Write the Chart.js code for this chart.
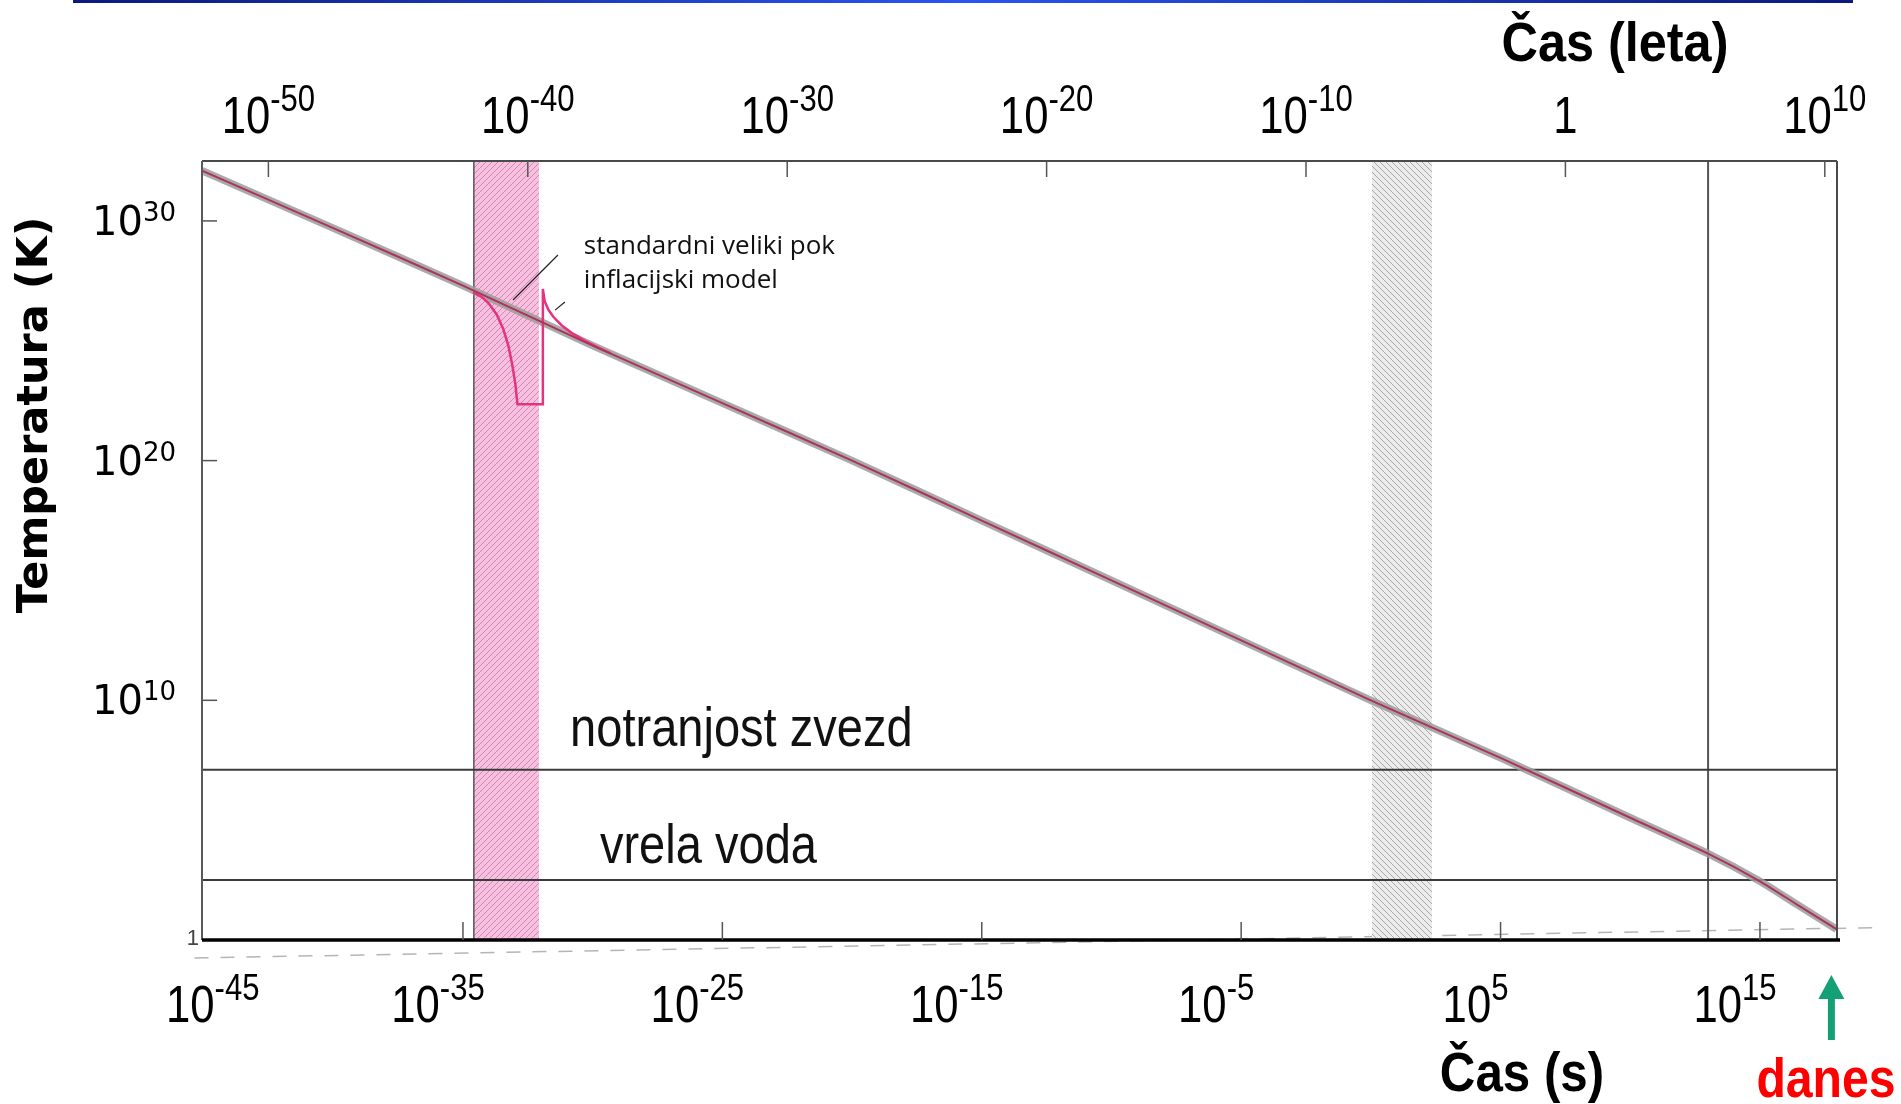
<!DOCTYPE html>
<html>
<head>
<meta charset="utf-8">
<title>Temperatura vesolja</title>
<script src="https://cdn.jsdelivr.net/npm/chart.js@4.4.1/dist/chart.umd.min.js"></script>
<style>
    html, body { margin: 0; padding: 0; background: #fff; overflow: hidden; }
    #wrap { position: relative; width: 1901px; height: 1104px; }
</style>
</head>
<body>
<div id="wrap"><canvas id="chart"></canvas></div>
<script>
// ---------------------------------------------------------------------------
// Data (everything in log10: time in seconds, temperature in kelvin)
// ---------------------------------------------------------------------------
const secMin = -45.06;
const secMax = 17.97;
const tempMax = 32.5;
const yearOffset = 7.5;          // log10(seconds per year)
const todayLogS = 17.6;

const timeLogS = [-45.06, -40, -35, -30, -25, -20, -15, -10, -5, 0, 5, 10, 13, 15, 16.4, 17.95];
const tempLogK = [32.1, 29.7, 27.3, 24.8, 22.4, 20.0, 17.5, 15.0, 12.5, 10.0, 7.6, 5.1, 3.6, 2.45, 1.5, 0.45];

// inflation branch
const inflTimeLogS = [-34.61, -34.3, -34.0, -33.7, -33.45, -33.25, -33.1, -32.98, -32.9, -31.92, -31.92,
    -31.85, -31.7, -31.5, -31.2, -30.8, -30.3, -29.8, -29.3];
const inflTempLogK = [27.02, 26.85, 26.55, 26.1, 25.5, 24.8, 24.0, 23.2, 22.35, 22.35, 27.16,
    26.65, 26.28, 25.98, 25.65, 25.32, 25.0, 24.72, 24.47];

const inflationBand = [-34.58, -32.07];
const nucleoBand = [0.04, 2.36];
const recombLogS = 13.0;
const starsLogK = 7.1;
const boilLogK = 2.5;

const secTicks = [-45, -35, -25, -15, -5, 5, 15];
const yearTicks = [-50, -40, -30, -20, -10, 0, 10];
const tempTicks = [30, 20, 10];

const leaderA = [[-31.34, 28.58], [-33.07, 26.7]];
const leaderB = [[-31.07, 26.62], [-31.45, 26.28]];
const scanBaseline = [[-45.35, -0.75], [19.6, 0.52]];

const notes = [
    { text: 'standardni veliki pok', x: -30.34, y: 28.62, size: 26, narrow: false },
    { text: 'inflacijski model', x: -30.34, y: 27.2, size: 26, narrow: false },
    { text: 'notranjost zvezd', x: -30.87, y: 8.09, size: 56, narrow: true },
    { text: 'vrela voda', x: -29.72, y: 3.21, size: 56, narrow: true },
];

// ---------------------------------------------------------------------------
// Helpers
// ---------------------------------------------------------------------------
const SANS = '"Liberation Sans", Arial, sans-serif';
const NARROW_SCALE = 0.84;

function pts(xs, ys) { return xs.map((x, i) => ({ x, y: ys[i] })); }
function pairs(arr) { return arr.map(p => ({ x: p[0], y: p[1] })); }

function lineDs(label, data, color, width, extra) {
    return Object.assign({
        label, data, borderColor: color, borderWidth: width,
        pointRadius: 0, fill: false, tension: 0,
    }, extra || {});
}

function hatch(ctx, bg, fg, dir) {
    const c = document.createElement('canvas');
    c.width = 6; c.height = 6;
    const g = c.getContext('2d');
    g.fillStyle = bg; g.fillRect(0, 0, 6, 6);
    g.strokeStyle = fg; g.lineWidth = 1;
    g.beginPath();
    if (dir > 0) {
        g.moveTo(-1, 7); g.lineTo(7, -1);
        g.moveTo(-1, 1); g.lineTo(1, -1);
        g.moveTo(5, 7); g.lineTo(7, 5);
    } else {
        g.moveTo(-1, -1); g.lineTo(7, 7);
        g.moveTo(-1, 5); g.lineTo(1, 7);
        g.moveTo(5, -1); g.lineTo(7, 1);
    }
    g.stroke();
    return ctx.createPattern(c, 'repeat');
}

// text squeezed horizontally (narrow face look)
function squeezed(ctx, text, x, y, hs, align) {
    ctx.save();
    ctx.translate(x, y);
    ctx.scale(hs, 1);
    ctx.textAlign = align || 'left';
    ctx.fillText(text, 0, 0);
    ctx.restore();
}

function powParts(exp) {
    return exp === 0 ? ['1', ''] : ['10', String(exp)];
}

function powWidth(ctx, exp, baseFont, supFont, hs) {
    const [base, sup] = powParts(exp);
    ctx.font = baseFont;
    const wb = ctx.measureText(base).width * hs;
    ctx.font = supFont;
    const ws = sup ? ctx.measureText(sup).width * hs : 0;
    return [wb, ws];
}

function drawPow(ctx, exp, left, y, baseFont, supFont, rise, hs) {
    const [base, sup] = powParts(exp);
    const [wb] = powWidth(ctx, exp, baseFont, supFont, hs);
    ctx.textBaseline = 'alphabetic';
    ctx.font = baseFont;
    squeezed(ctx, base, left, y, hs);
    if (sup) {
        ctx.font = supFont;
        squeezed(ctx, sup, left + wb, y - rise, hs);
    }
}

function seg(ctx, x1, y1, x2, y2, color, width) {
    ctx.strokeStyle = color;
    ctx.lineWidth = width;
    ctx.beginPath();
    ctx.moveTo(x1, y1);
    ctx.lineTo(x2, y2);
    ctx.stroke();
}

// ---------------------------------------------------------------------------
// Decorations: frame, inside ticks, labels, titles
// ---------------------------------------------------------------------------
const decor = {
    id: 'decor',
    beforeDraw(chart) {
        const ctx = chart.ctx;
        const grad = ctx.createLinearGradient(73, 0, 1853, 0);
        grad.addColorStop(0, '#0b1a7a');
        grad.addColorStop(0.5, '#2a55f0');
        grad.addColorStop(1, '#0b1a7a');
        ctx.save();
        ctx.fillStyle = grad;
        ctx.fillRect(73, 0, 1780, 3);
        ctx.restore();
    },
    afterDatasetsDraw(chart) {
        const ctx = chart.ctx;
        const ca = chart.chartArea;
        const xs = chart.scales.x, xy = chart.scales.xYr, ys = chart.scales.y;
        ctx.save();

        // frame
        seg(ctx, ca.left, ca.top, ca.right, ca.top, '#4a4a4a', 2);
        seg(ctx, ca.left, ca.top, ca.left, ca.bottom, '#5a5a5a', 2);
        seg(ctx, ca.right, ca.top, ca.right, ca.bottom, '#4a4a4a', 2);
        seg(ctx, ca.left, ca.bottom, ca.right + 3, ca.bottom, '#000', 3.5);

        // ticks drawn inwards
        secTicks.forEach(v => {
            const px = xs.getPixelForValue(v);
            if (px > ca.left + 3) seg(ctx, px, ca.bottom, px, ca.bottom - 18, '#555', 1.5);
        });
        yearTicks.forEach(v => {
            const px = xy.getPixelForValue(v);
            seg(ctx, px, ca.top, px, ca.top + 16, '#555', 1.5);
        });
        tempTicks.forEach(v => {
            const py = ys.getPixelForValue(v);
            seg(ctx, ca.left, py, ca.left + 15, py, '#555', 1.5);
        });

        // tick labels
        ctx.fillStyle = '#000';
        const bf = '52px ' + SANS, sf = '37px ' + SANS;
        secTicks.forEach(v => {
            const [wb, ws] = powWidth(ctx, v, bf, sf, NARROW_SCALE);
            let left = xs.getPixelForValue(v) - 25 - (wb + ws) / 2;
            left = Math.max(left, ca.left - 36);
            drawPow(ctx, v, left, ca.bottom + 82, bf, sf, 22, NARROW_SCALE);
        });
        yearTicks.forEach(v => {
            const [wb, ws] = powWidth(ctx, v, bf, sf, NARROW_SCALE);
            const left = xy.getPixelForValue(v) - (wb + ws) / 2;
            drawPow(ctx, v, left, ca.top - 28, bf, sf, 22, NARROW_SCALE);
        });
        const yb = '40px "DejaVu Sans", sans-serif', yf = '26px "DejaVu Sans", sans-serif';
        tempTicks.forEach(v => {
            const [wb, ws] = powWidth(ctx, v, yb, yf, 1);
            drawPow(ctx, v, ca.left - 26 - wb - ws, ys.getPixelForValue(v) + 14, yb, yf, 14, 1);
        });
        ctx.fillStyle = '#444';
        ctx.font = '22px ' + SANS;
        squeezed(ctx, '1', ca.left - 3, ca.bottom + 5, 1, 'right');

        // notes inside the plot
        ctx.fillStyle = '#111';
        notes.forEach(n => {
            if (n.narrow) {
                ctx.font = n.size + 'px ' + SANS;
                squeezed(ctx, n.text, xs.getPixelForValue(n.x), ys.getPixelForValue(n.y), NARROW_SCALE);
            } else {
                ctx.font = n.size + 'px "Open Sans", sans-serif';
                squeezed(ctx, n.text, xs.getPixelForValue(n.x), ys.getPixelForValue(n.y), 1);
            }
        });

        // axis titles
        ctx.fillStyle = '#000';
        ctx.font = 'bold 56px ' + SANS;
        squeezed(ctx, 'Čas (leta)', 1615, 61, 0.9, 'center');
        squeezed(ctx, 'Čas (s)', 1522, 1091, 0.88, 'center');
        ctx.fillStyle = '#ff0000';
        squeezed(ctx, 'danes', 1826, 1097, 0.86, 'center');

        ctx.save();
        ctx.translate(36, 415);
        ctx.rotate(-Math.PI / 2);
        ctx.fillStyle = '#000';
        ctx.font = 'bold 43px "DejaVu Sans", sans-serif';
        ctx.textBaseline = 'middle';
        ctx.textAlign = 'center';
        ctx.fillText('Temperatura (K)', 0, 0);
        ctx.restore();

        // arrow marking today
        const ax = xs.getPixelForValue(todayLogS) + 4;
        ctx.fillStyle = '#12a074';
        ctx.fillRect(ax - 3.5, 996, 7, 44);
        ctx.beginPath();
        ctx.moveTo(ax, 975);
        ctx.lineTo(ax + 13, 999);
        ctx.lineTo(ax - 13, 999);
        ctx.closePath();
        ctx.fill();

        ctx.restore();
    },
};

// ---------------------------------------------------------------------------
// Chart
// ---------------------------------------------------------------------------
const canvas = document.getElementById('chart');
const ctx2d = canvas.getContext('2d');
const pinkHatch = hatch(ctx2d, '#f4c2de', '#e07fb5', 1);
const greyHatch = hatch(ctx2d, '#ececec', '#a9a9a9', -1);

const datasets = [
    lineDs('standardni veliki pok', pts(timeLogS, tempLogK), '#ad3459', 2, { tension: 0.2 }),
    lineDs('inflacijski model', pts(inflTimeLogS, inflTempLogK), '#e6337f', 2.5),
    lineDs('senca', pts(timeLogS, tempLogK), 'rgba(155,155,155,0.85)', 7.5, { tension: 0.2 }),
    lineDs('oznaka 1', pairs(leaderA), '#222', 1.2),
    lineDs('oznaka 2', pairs(leaderB), '#222', 1.2),
    lineDs('notranjost zvezd', [{ x: secMin, y: starsLogK }, { x: secMax, y: starsLogK }], '#3a3a3a', 2),
    lineDs('vrela voda', [{ x: secMin, y: boilLogK }, { x: secMax, y: boilLogK }], '#3a3a3a', 2),
    lineDs('rekombinacija', [{ x: recombLogS, y: 0 }, { x: recombLogS, y: tempMax }], '#555', 2),
    lineDs('rob inflacije', [{ x: inflationBand[0], y: 0 }, { x: inflationBand[0], y: tempMax }], '#555', 1.5),
    lineDs('inflacija', [{ x: inflationBand[0], y: tempMax }, { x: inflationBand[1], y: tempMax }], 'transparent', 0,
        { fill: 'origin', backgroundColor: pinkHatch }),
    lineDs('nukleosinteza', [{ x: nucleoBand[0], y: tempMax }, { x: nucleoBand[1], y: tempMax }], 'transparent', 0,
        { fill: 'origin', backgroundColor: greyHatch }),
    lineDs('skeniran rob', pairs(scanBaseline), '#b5b5b5', 1.5, { borderDash: [14, 12], clip: false }),
];

new Chart(canvas, {
    type: 'line',
    data: { datasets },
    options: {
        responsive: true,
        maintainAspectRatio: false,
        animation: false,
        events: [],
        layout: { padding: { left: 202, right: 64, top: 161, bottom: 164 } },
        plugins: { legend: { display: false }, tooltip: { enabled: false } },
        scales: {
            x: { type: 'linear', min: secMin, max: secMax, display: false },
            xYr: { type: 'linear', axis: 'x', position: 'top', min: secMin - yearOffset, max: secMax - yearOffset, display: false },
            y: { type: 'linear', min: 0, max: tempMax, display: false },
        },
    },
    plugins: [decor],
});
</script>
</body>
</html>
